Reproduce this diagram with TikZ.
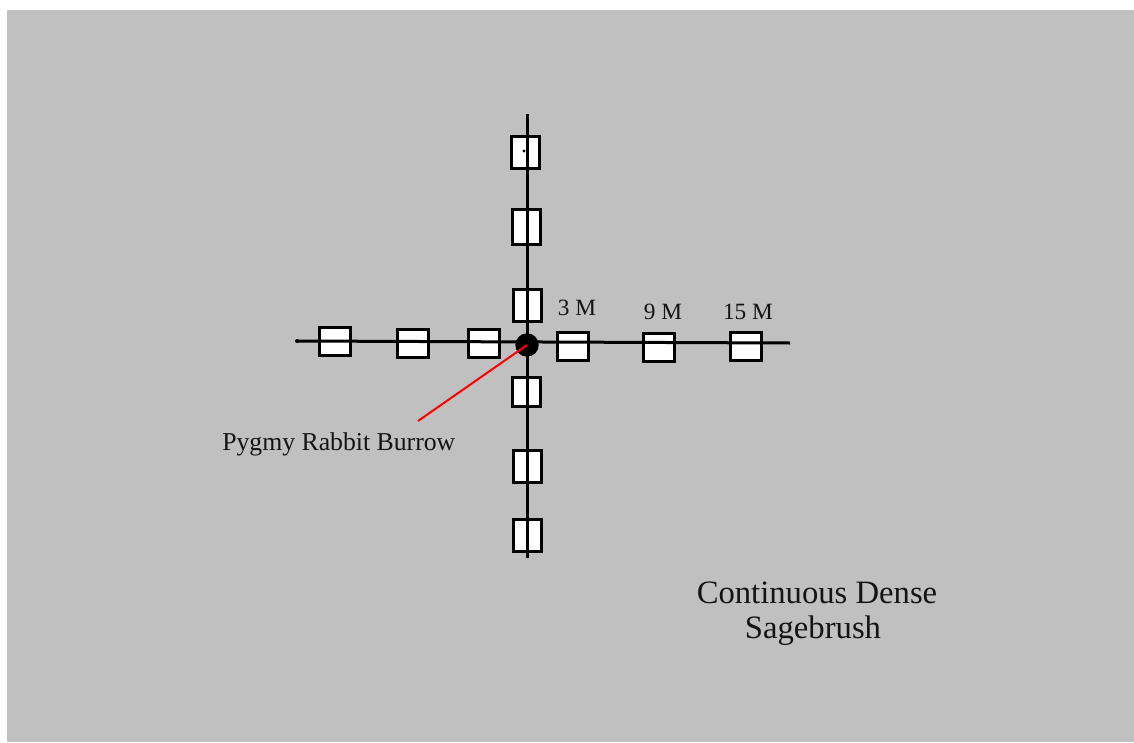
\documentclass[tikz,border=0pt]{standalone}
\usepackage{fontspec}
\setmainfont{Liberation Serif}
\definecolor{bg}{RGB}{192,192,192}
\definecolor{txt}{RGB}{20,20,20}
\begin{document}
\begin{tikzpicture}[x=0.75pt,y=-0.75pt,
  trap/.style={draw=black,fill=white,line width=2.25pt,rectangle,inner sep=0pt},
  hbox/.style={trap,minimum width=23pt,minimum height=21pt},
  vbox/.style={trap,minimum width=21pt,minimum height=24pt},
  axis/.style={draw=black,line width=2.25pt},
  lbl/.style={inner sep=0pt,anchor=base,text=txt}]
\useasboundingbox (0,0) rectangle (1134,742);
\fill[white] (0,0) rectangle (1134,742);
\fill[bg] (7,10) rectangle (1134,742);
% traps west
\node[hbox] (w3) at (335,341) {};
\node[hbox] (w2) at (413,343) {};
\node[hbox] (w1) at (484,343) {};
% traps east
\node[hbox] (e1) at (573,346) {};
\node[hbox] (e2) at (659,347) {};
\node[hbox] (e3) at (746,346) {};
% traps north
\node[vbox] (n3) at (525,152) {};
\node[vbox,minimum height=26pt] (n2) at (526,227) {};
\node[vbox] (n1) at (527,305) {};
% traps south
\node[vbox,minimum height=22pt] (s1) at (526,392) {};
\node[vbox] (s2) at (527,466) {};
\node[vbox] (s3) at (527,535) {};
% axis ends
\coordinate (wend) at (297,341);
\coordinate (eend) at (790,343);
\coordinate (nend) at (527,114);
\coordinate (send) at (527,558);
\draw[axis] (wend) -- (eend);
\draw[axis] (nend) -- (send);
\fill[black] (wend) circle (2);
\fill[black] (524,151) circle (1.6);
% burrow
\node[circle,fill=black,minimum size=17.5pt,inner sep=0pt] (burrow) at (527,345) {};
\coordinate (ptr) at (418,421);
\draw[red,line width=1.5pt] (burrow.center) -- (ptr);
% labels
\node[lbl,font=\fontsize{17.5}{20}\selectfont] (l3) at (577,315) {3 M};
\node[lbl,font=\fontsize{17.5}{20}\selectfont] (l9) at (663,319) {9 M};
\node[lbl,font=\fontsize{17.5}{20}\selectfont] (l15) at (748,319) {15 M};
\node[lbl,anchor=base west,font=\fontsize{19.3}{22}\selectfont] (burrowlbl) at (222,450) {Pygmy Rabbit Burrow};
\node[lbl,font=\fontsize{24.5}{28}\selectfont] (hab1) at (817,603) {Continuous Dense};
\node[lbl,font=\fontsize{24.5}{28}\selectfont] (hab2) at (813,638) {Sagebrush};
\end{tikzpicture}
\end{document}
